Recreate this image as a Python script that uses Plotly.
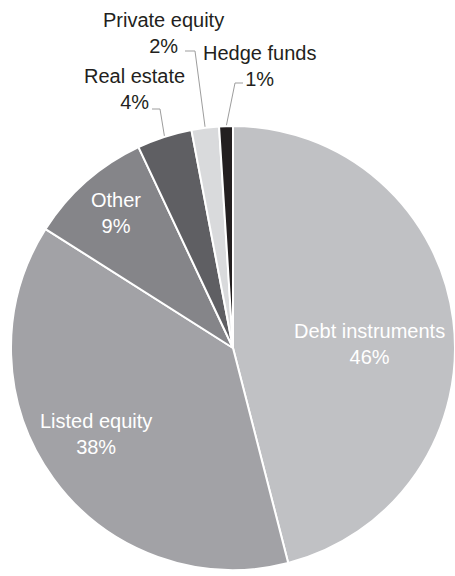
import math
import plotly.graph_objects as go

labels = ["Debt instruments", "Listed equity", "Other", "Real estate", "Private equity", "Hedge funds"]
values = [46, 38, 9, 4, 2, 1]
colors = ["#c0c1c4", "#a2a2a6", "#858589", "#5f5f63", "#d9dadc", "#231f20"]

# layout constants (pixels in a 455x576 canvas)
W, H = 455, 576
CX, CY, R = 233, 348, 222
# label centres (pixel) and leader-line anchors (None for inside labels)
label_pos = [(369, 344), (96, 434), (116, 213), (134, 89), (163, 33), (259, 66)]
leader_start = [None, None, None, [(152, 109), (160, 109)], [(185, 51), (195, 51)], [(243, 83), (235, 83)]]
inside = [True, True, True, False, False, False]

total = sum(values)
pcts = [round(v / total * 100) for v in values]

fig = go.Figure()
fig.add_trace(go.Pie(
    labels=labels,
    values=values,
    sort=False,
    direction="clockwise",
    rotation=0,
    marker=dict(colors=colors, line=dict(color="white", width=2)),
    textinfo="none",
    showlegend=False,
    hoverinfo="skip",
    domain=dict(x=[(CX - R) / W, (CX + R) / W], y=[1 - (CY + R) / H, 1 - (CY - R) / H]),
))

# leader lines: end on slice edge at the slice's mid angle (from data)
cum = 0
for i, v in enumerate(values):
    mid = (cum + v / 2) / total * 2 * math.pi
    cum += v
    if leader_start[i] is None:
        continue
    ex = CX + (R - 1) * math.sin(mid)
    ey = CY - (R - 1) * math.cos(mid)
    xs = [p[0] for p in leader_start[i]] + [ex]
    ys = [p[1] for p in leader_start[i]] + [ey]
    fig.add_trace(go.Scatter(x=xs, y=ys, mode="lines", line=dict(color="#9d9d9d", width=1),
                             hoverinfo="skip", showlegend=False))

for i, lab in enumerate(labels):
    x, y = label_pos[i]
    fig.add_annotation(
        x=x, y=y, xref="x", yref="y",
        text=f"{lab}<br>{pcts[i]}%",
        showarrow=False, align="center",
        xanchor="center", yanchor="middle",
        font=dict(family="Liberation Sans, Arial, sans-serif", size=20,
                  color="white" if inside[i] else "#231f20"),
    )

fig.update_layout(
    width=W, height=H,
    margin=dict(l=0, r=0, t=0, b=0),
    paper_bgcolor="white", plot_bgcolor="rgba(0,0,0,0)",
    xaxis=dict(range=[0, W], visible=False, domain=[0, 1], fixedrange=True),
    yaxis=dict(range=[H, 0], visible=False, domain=[0, 1], fixedrange=True),
)
fig.write_html("out.html")
